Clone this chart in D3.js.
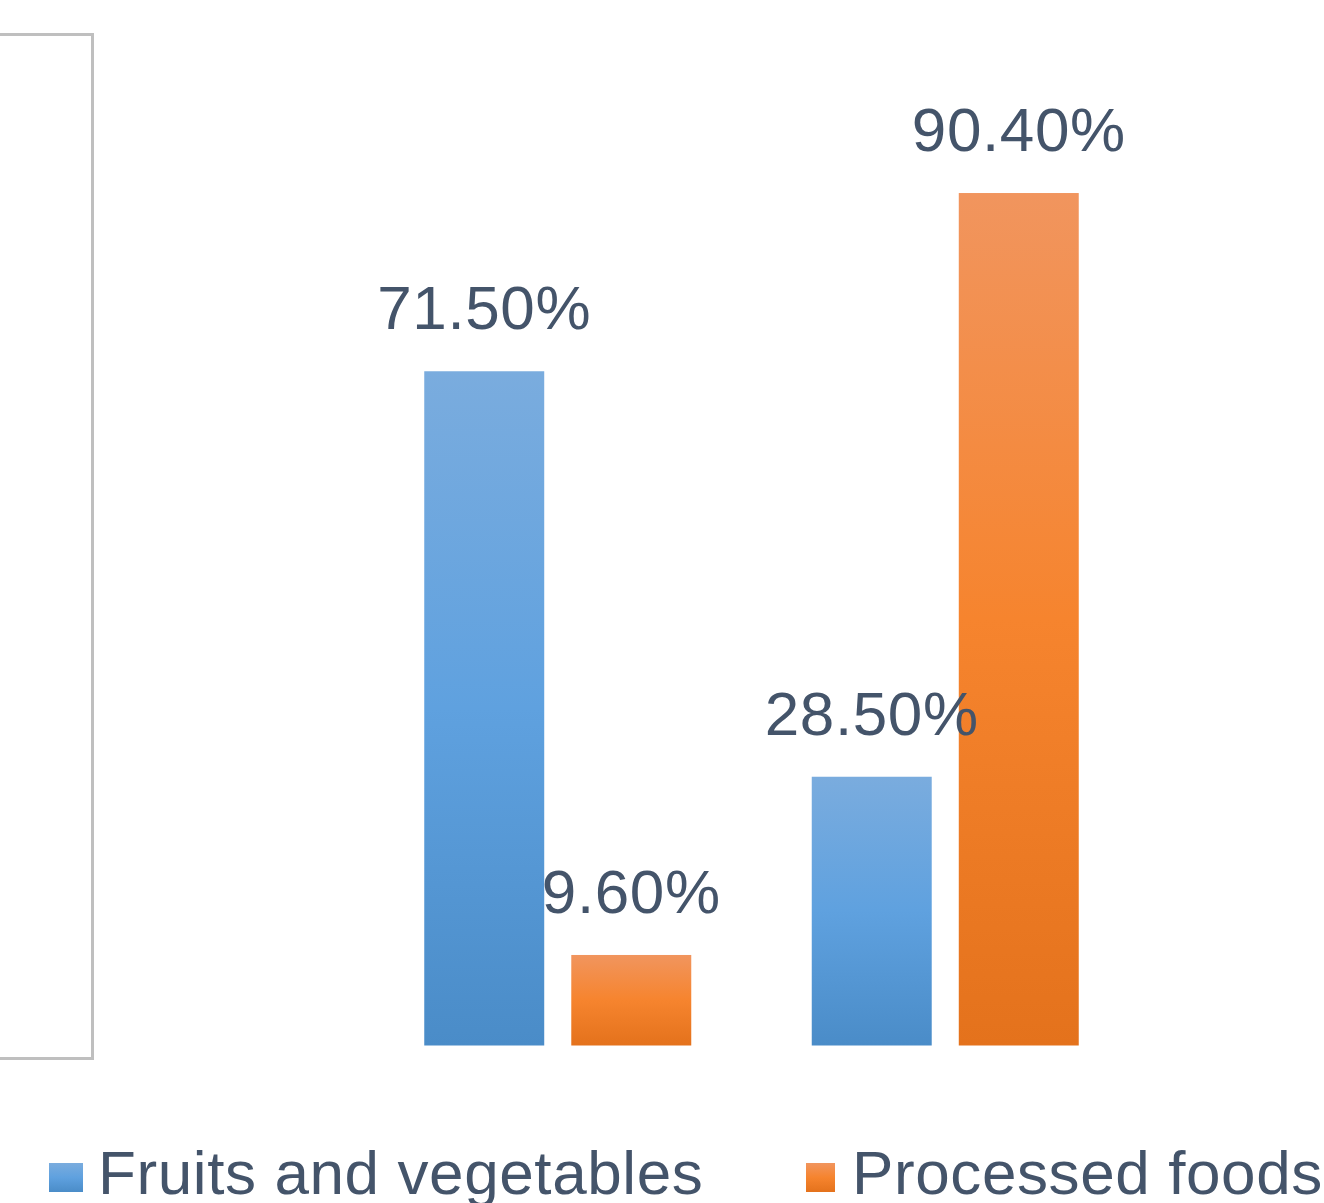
<!DOCTYPE html>
<html>
<head>
<meta charset="utf-8">
<script src="https://cdn.jsdelivr.net/npm/d3@7"></script>
<style>
  html, body { margin: 0; padding: 0; background: #fff; }
  svg { display: block; }
  text { font-family: "Liberation Sans", Arial, sans-serif; fill: #44546A; }
</style>
</head>
<body>
<script>
// ---- data ----
const groups = ["Group 1", "Group 2"];
const seriesNames = ["Fruits and vegetables", "Processed foods"];
const fruitsVeg = [71.5, 28.5];
const processed = [9.6, 90.4];
const valueLabels = [["71.50%", "9.60%"], ["28.50%", "90.40%"]];

const W = 1324, H = 1203;
const svg = d3.select("body").append("svg").attr("width", W).attr("height", H);

const gradDefs = [
  { id: "gBlue",   stops: ["#7aacde", "#5fa1df", "#4a8cc8"] },
  { id: "gOrange", stops: ["#f1955e", "#f6842e", "#e4721c"] }
];
const defs = svg.append("defs");
gradDefs.forEach(g => {
  const lg = defs.append("linearGradient").attr("id", g.id)
    .attr("x1", 0).attr("y1", 0).attr("x2", 0).attr("y2", 1);
  lg.selectAll("stop").data(g.stops).join("stop")
    .attr("offset", (d, i) => i / (g.stops.length - 1))
    .attr("stop-color", d => d);
});

// grey frame on the left
svg.append("rect")
  .attr("x", -20).attr("y", 34.5).attr("width", 112.5).attr("height", 1024)
  .attr("fill", "none").attr("stroke", "#bfbfbf").attr("stroke-width", 3);

const x0 = d3.scaleBand().domain(groups).range([364, 1139]).paddingInner(0).paddingOuter(0);
const x1 = d3.scaleBand().domain(seriesNames)
  .range([x0.bandwidth() / 2 - 133.5, x0.bandwidth() / 2 + 133.5])
  .paddingInner(0.184).paddingOuter(0);
const y = d3.scaleLinear().domain([0, 100]).range([1045.5, 102.5]);

const data = groups.map((g, gi) => ({
  group: g,
  values: [
    { s: seriesNames[0], v: fruitsVeg[gi], label: valueLabels[gi][0], grad: "gBlue" },
    { s: seriesNames[1], v: processed[gi], label: valueLabels[gi][1], grad: "gOrange" }
  ]
}));

const gG = svg.selectAll("g.grp").data(data).join("g")
  .attr("class", "grp")
  .attr("transform", d => `translate(${x0(d.group)},0)`);

gG.selectAll("rect").data(d => d.values).join("rect")
  .attr("x", d => x1(d.s))
  .attr("y", d => y(d.v))
  .attr("width", x1.bandwidth())
  .attr("height", d => y(0) - y(d.v))
  .attr("fill", d => `url(#${d.grad})`);

gG.selectAll("text").data(d => d.values).join("text")
  .attr("x", d => x1(d.s) + x1.bandwidth() / 2)
  .attr("y", d => y(d.v) - 42)
  .attr("text-anchor", "middle")
  .attr("font-size", 62)
  .attr("letter-spacing", 0.6)
  .text(d => d.label);

// legend
const legendItems = [
  { name: seriesNames[0], grad: "gBlue", sx: 49, sw: 34, tx: 98 },
  { name: seriesNames[1], grad: "gOrange", sx: 806, sw: 29, tx: 852 }
];
const lg = svg.selectAll("g.leg").data(legendItems).join("g").attr("class", "leg");
lg.append("rect")
  .attr("x", d => d.sx).attr("y", 1163).attr("width", d => d.sw).attr("height", 29)
  .attr("fill", d => `url(#${d.grad})`);
lg.append("text")
  .attr("x", d => d.tx).attr("y", 1194)
  .attr("font-size", 62)
  .attr("letter-spacing", 0.6)
  .text(d => d.name);
</script>
</body>
</html>
